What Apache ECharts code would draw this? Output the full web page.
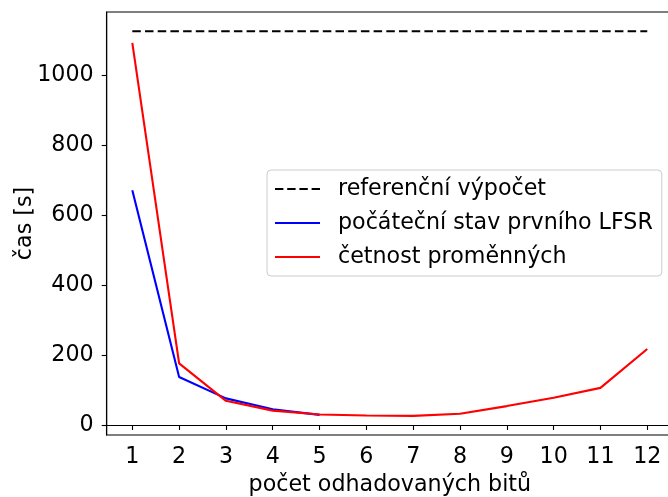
<!DOCTYPE html>
<html>
<head>
<meta charset="utf-8">
<script src="https://cdn.jsdelivr.net/npm/echarts@6/dist/echarts.min.js"></script>
<style>html,body{margin:0;padding:0;background:#fff}#c{width:668px;height:497px}</style>
</head>
<body>
<div id="c"></div>
<script>
const bits = [1, 2, 3, 4, 5, 6, 7, 8, 9, 10, 11, 12];
const referenceTime = [1125, 1125, 1125, 1125, 1125, 1125, 1125, 1125, 1125, 1125, 1125, 1125];
const lfsrBits = [1, 2, 3, 4, 5];
const lfsrTime = [671, 137, 76, 45, 29];
const freqTime = [1092, 176, 69, 41, 30, 27, 26, 32, 54, 78, 106, 217];
const xTicks = [1, 2, 3, 4, 5, 6, 7, 8, 9, 10, 11, 12];
const yTicks = [0, 200, 400, 600, 800, 1000];
const seriesNames = ['referenční výpočet', 'počáteční stav prvního LFSR', 'četnost proměnných'];
const xTitle = 'počet odhadovaných bitů';
const yTitle = 'čas [s]';

const FONT = 'DejaVu Sans';
const FS = 22.2;
const pair = (xs, ys) => xs.map((x, i) => [x, ys[i]]);
const solidIcon = 'path://M0,0H45V2.1H0Z';
const dashIcon = 'path://M0,0H8.4V2.1H0Z M12.2,0H20.6V2.1H12.2Z M24.4,0H32.8V2.1H24.4Z M36.6,0H45V2.1H36.6Z';

const chart = echarts.init(document.getElementById('c'), null, {renderer: 'canvas'});
chart.setOption({
  animation: false,
  backgroundColor: '#ffffff',
  textStyle: {fontFamily: FONT},
  grid: {left: 106.7, top: 12, width: 566.3, height: 423, outerBoundsMode: 'none', containLabel: false,
         show: true, borderColor: '#000', borderWidth: 1.1, backgroundColor: 'transparent'},
  legend: {
    orient: 'vertical', left: 267, top: 170,
    padding: [8, 9, 8, 8],
    itemWidth: 45, itemHeight: 2.1, itemGap: 12,
    backgroundColor: '#fff', borderColor: '#cccccc', borderWidth: 1, borderRadius: 4,
    textStyle: {fontFamily: FONT, fontSize: FS, color: '#000', padding: [0, 0, 0, 13]},
    data: [
      {name: seriesNames[0], icon: dashIcon, itemStyle: {color: '#000'}},
      {name: seriesNames[1], icon: solidIcon, itemStyle: {color: '#0000ff'}},
      {name: seriesNames[2], icon: solidIcon, itemStyle: {color: '#ff0000'}}
    ]
  },
  xAxis: {
    type: 'value', min: 0.453, max: 12.55,
    name: xTitle, nameLocation: 'middle', nameGap: 39, nameMoveOverlap: false,
    nameTextStyle: {fontFamily: FONT, fontSize: FS, color: '#000'},
    axisLine: {show: true, lineStyle: {color: '#000', width: 1.1}},
    axisTick: {show: true, length: 5, lineStyle: {color: '#000', width: 1.1}, customValues: xTicks},
    axisLabel: {fontFamily: FONT, fontSize: FS, color: '#000', margin: 11.5, customValues: xTicks,
                formatter: v => String(v)},
    splitLine: {show: false}
  },
  yAxis: {
    type: 'value', min: -28.6, max: 1180,
    name: yTitle, nameLocation: 'middle', nameGap: 70, nameRotate: 90, nameMoveOverlap: false,
    nameTextStyle: {fontFamily: FONT, fontSize: FS, color: '#000'},
    axisLine: {show: true, lineStyle: {color: '#000', width: 1.1}},
    axisTick: {show: true, length: 5, lineStyle: {color: '#000', width: 1.1}, customValues: yTicks},
    axisLabel: {fontFamily: FONT, fontSize: FS, color: '#000', margin: 13, customValues: yTicks,
                padding: [5, 0, 0, 0], formatter: v => String(v)},
    splitLine: {show: false}
  },
  series: [
    {name: seriesNames[0], type: 'line', data: pair(bits, referenceTime), symbol: 'none',
     lineStyle: {color: '#000', width: 2.1, type: [8.5, 4.2]}, itemStyle: {color: '#000'}},
    {name: seriesNames[1], type: 'line', data: pair(lfsrBits, lfsrTime), symbol: 'none',
     lineStyle: {color: '#0000ff', width: 2.1}, itemStyle: {color: '#0000ff'}},
    {name: seriesNames[2], type: 'line', data: pair(bits, freqTime), symbol: 'none',
     lineStyle: {color: '#ff0000', width: 2.1}, itemStyle: {color: '#ff0000'}}
  ]
});
</script>
</body>
</html>
